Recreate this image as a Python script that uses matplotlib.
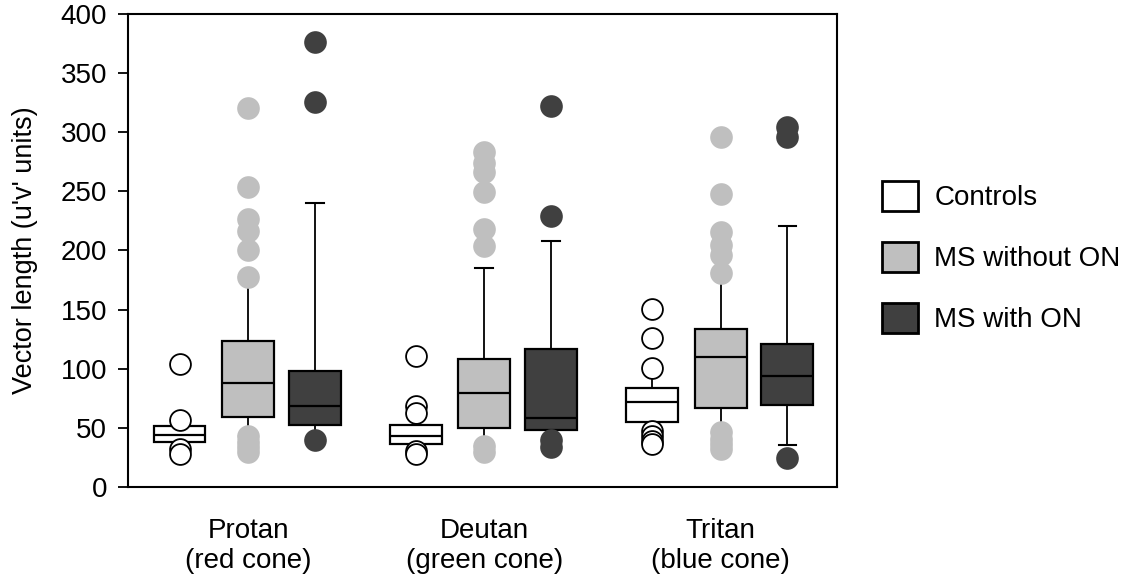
import matplotlib
matplotlib.use("Agg")
import matplotlib.pyplot as plt
from matplotlib.patches import Patch

plt.rcParams['font.family'] = ['Liberation Sans', 'DejaVu Sans']

# categories and groups
categories = ["Protan\n(red cone)", "Deutan\n(green cone)", "Tritan\n(blue cone)"]
groups = ["Controls", "MS without ON", "MS with ON"]
colors = ["#ffffff", "#bfbfbf", "#404040"]

# box stats per group, one value per category (Protan, Deutan, Tritan)
q1 = {
    "Controls": [37.7, 36.3, 54.6],
    "MS without ON": [58.8, 50.3, 66.7],
    "MS with ON": [52.3, 48.1, 69.2],
}
med = {
    "Controls": [44.1, 42.8, 71.5],
    "MS without ON": [87.8, 79.3, 110.3],
    "MS with ON": [68.6, 58.2, 93.9],
}
q3 = {
    "Controls": [51.2, 52.3, 83.5],
    "MS without ON": [123.5, 108.0, 133.3],
    "MS with ON": [98.2, 116.5, 121.2],
}
whislo = {
    "Controls": [32.0, 30.7, 47.5],
    "MS without ON": [43.0, 35.0, 46.0],
    "MS with ON": [40.0, 40.0, 35.7],
}
whishi = {
    "Controls": [56.5, 63.0, 101.0],
    "MS without ON": [177.5, 185.4, 181.2],
    "MS with ON": [240.0, 208.4, 220.8],
}
fliers = {
    "Controls": [
        [104, 56.5, 32, 28],
        [110.8, 68.6, 63, 30.7, 27.8],
        [150.2, 125.7, 101, 47.5, 43.3, 39.1, 36.3],
    ],
    "MS without ON": [
        [320.7, 253.7, 226.7, 216.9, 200.3, 177.5, 43, 38, 34, 30],
        [283.3, 274, 266, 249.5, 218.3, 204.2, 34.9, 29.3],
        [296, 248.1, 215.8, 205, 196.6, 181.2, 46.1, 40.5, 36.3, 32],
    ],
    "MS with ON": [
        [376.7, 325.2, 39.7],
        [322.4, 229, 39.9, 33.5],
        [304.4, 296, 24.7],
    ],
}

offsets = [-0.29, 0.0, 0.283]
fs = 20

fig = plt.figure(figsize=(11.21, 5.77), dpi=100)
ax = fig.add_axes([128 / 1121, (577 - 487) / 577, (837 - 128) / 1121, (487 - 14) / 577])

for g, name in enumerate(groups):
    stats = []
    for c in range(len(categories)):
        stats.append({
            "med": med[name][c], "q1": q1[name][c], "q3": q3[name][c],
            "whislo": whislo[name][c], "whishi": whishi[name][c],
            "fliers": fliers[name][c],
        })
    pos = [c + 1 + offsets[g] for c in range(len(categories))]
    edge = "black" if name == "Controls" else colors[g]
    ax.bxp(stats, positions=pos, widths=0.22, patch_artist=True,
           boxprops=dict(facecolor=colors[g], edgecolor="black", linewidth=1.6),
           medianprops=dict(color="black", linewidth=1.6),
           whiskerprops=dict(color="black", linewidth=1.3),
           capprops=dict(color="black", linewidth=1.5),
           capwidths=0.075,
           flierprops=dict(marker="o", markersize=15, markerfacecolor=colors[g],
                           markeredgecolor=edge, markeredgewidth=1.3),
           manage_ticks=False)

ax.set_xlim(0.492, 3.493)
ax.set_ylim(0, 400)
ax.set_yticks(range(0, 401, 50))
ax.set_xticks([1, 2, 3])
ax.set_xticklabels(categories, linespacing=1.2)
ax.tick_params(axis="x", length=0, pad=22, labelsize=fs)
ax.tick_params(axis="y", length=7, width=1.3, pad=8, labelsize=fs)
for s in ax.spines.values():
    s.set_linewidth(1.5)
ax.set_ylabel("Vector length (u'v' units)", fontsize=19.5)
ax.yaxis.set_label_coords(-0.127, 0.5)

handles = [Patch(facecolor=colors[g], edgecolor="black", linewidth=2) for g in range(len(groups))]
fig.legend(handles, groups, loc="upper left", bbox_to_anchor=(882 / 1121, 1 - 181 / 577),
           frameon=False, fontsize=fs, handlelength=1.3, handleheight=1.3,
           labelspacing=1.1, handletextpad=0.58, borderpad=0, borderaxespad=0)

fig.savefig("out.png", dpi=100)
